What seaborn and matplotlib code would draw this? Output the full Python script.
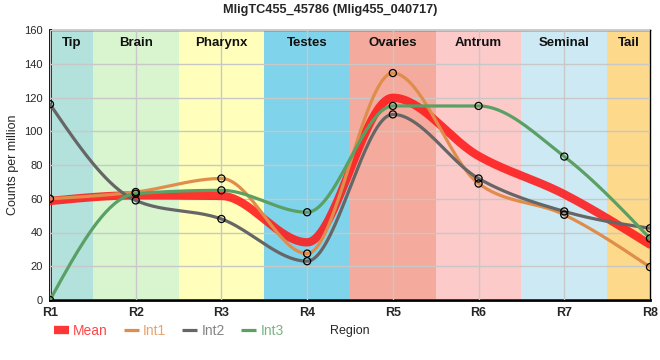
import numpy as np
import pandas as pd
import matplotlib
matplotlib.use("Agg")
import matplotlib.pyplot as plt
import seaborn as sns
from matplotlib.lines import Line2D

# --- data ---
regions = ["R1", "R2", "R3", "R4", "R5", "R6", "R7", "R8"]
int1 = [60, 64, 72, 27.5, 134.5, 69, 50.5, 19.5]
int2 = [116, 59, 48, 23, 110, 72, 52.5, 42.5]
int3 = [0, 63, 65, 52, 115, 115, 85, 36.5]
mean = list(np.mean([int1, int2, int3], axis=0))

tissues = ["Tip", "Brain", "Pharynx", "Testes", "Ovaries", "Antrum", "Seminal", "Tail"]
tissue_colors = ["#b3e2dd", "#d8f5d0", "#ffffbb", "#7fd3ea", "#f4aa9c",
                 "#fdcaca", "#cdeaf4", "#fdd98b"]

series = {"Int1": int1, "Int2": int2, "Int3": int3}
colors = {"Mean": "#ff1a1a", "Int1": "#e08d4b", "Int2": "#666666", "Int3": "#5aa064"}


def monotone(y, n=40):
    # d3 curveMonotoneX style (Steffen) smoothing, only for drawing the curve
    y = np.asarray(y, float)
    x = np.arange(len(y), dtype=float)
    s = np.diff(y)
    t = np.zeros(len(y))
    for i in range(1, len(y) - 1):
        s0, s1 = s[i - 1], s[i]
        p = (s0 + s1) / 2
        t[i] = (np.sign(s0) + np.sign(s1)) * min(abs(s0), abs(s1), 0.5 * abs(p))
    t[0] = (3 * s[0] - t[1]) / 2
    t[-1] = (3 * s[-1] - t[-2]) / 2
    xs, ys = [], []
    for i in range(len(y) - 1):
        u = np.linspace(0, 1, n, endpoint=False)
        h00 = 2 * u**3 - 3 * u**2 + 1
        h10 = u**3 - 2 * u**2 + u
        h01 = -2 * u**3 + 3 * u**2
        h11 = u**3 - u**2
        xs.append(x[i] + u)
        ys.append(h00 * y[i] + h10 * t[i] + h01 * y[i + 1] + h11 * t[i + 1])
    xs.append([x[-1]])
    ys.append([y[-1]])
    return np.concatenate(xs), np.concatenate(ys)


sns.set_theme(style="white")
plt.rcParams['font.family'] = ['Liberation Sans', 'DejaVu Sans']

fig = plt.figure(figsize=(6.6, 3.6), dpi=100)
ax = fig.add_axes([50 / 660, 60 / 360, 600 / 660, 270 / 360])

# tissue bands
for i, (name, col) in enumerate(zip(tissues, tissue_colors)):
    lo, hi = max(i - 0.5, 0), min(i + 0.5, len(regions) - 1)
    ax.axvspan(lo, hi, color=col, lw=0, zorder=0)
    ax.text((lo + hi) / 2, 156, name, ha="center", va="top",
            fontsize=9.5, fontweight="bold", color="#111111", zorder=5)

ax.grid(True, color="#c8c8c8", lw=1, zorder=1)
ax.set_axisbelow(False)

# smooth lines
xm, ym = monotone(mean)
sns.lineplot(x=xm, y=ym, ax=ax, color=colors["Mean"], lw=6, alpha=0.88,
             zorder=3, sort=False)
for name, vals in series.items():
    xs, ys = monotone(vals)
    sns.lineplot(x=xs, y=ys, ax=ax, color=colors[name], lw=2.3, zorder=4, sort=False)

for name, vals in series.items():
    sns.scatterplot(x=np.arange(len(regions)), y=vals, ax=ax, s=26,
                    facecolor="none", edgecolor="black", linewidth=0.9, zorder=6)

ax.set_xlim(0, len(regions) - 1)
ax.set_ylim(0, 160)
ax.set_xticks(range(len(regions)))
ax.set_xticklabels(regions, fontsize=9, fontweight="bold")
ax.set_yticks(range(0, 161, 20))
ax.tick_params(axis="y", labelsize=8, length=3, pad=2)
ax.tick_params(axis="x", length=3, pad=2)
for side in ["top", "right"]:
    ax.spines[side].set_linewidth(1)
    ax.spines[side].set_color("black")
for side in ["left", "bottom"]:
    ax.spines[side].set_linewidth(2)
    ax.spines[side].set_color("black")

ax.set_ylabel("Counts per million", fontsize=9)
ax.set_xlabel("")
fig.text(0.5, 1 - 10 / 360, "MligTC455_45786 (Mlig455_040717)", fontsize=9.2,
         fontweight="bold", ha="center", va="center")
fig.text(330 / 660, 1 - 331 / 360, "Region", fontsize=9, va="center", ha="left")

handles = [Line2D([], [], color=colors["Mean"], lw=6, alpha=0.88, solid_capstyle="butt")]
handles += [Line2D([], [], color=colors[n], lw=2.3, solid_capstyle="butt") for n in series]
leg = fig.legend(handles, ["Mean"] + list(series), loc="center left",
                 bbox_to_anchor=(41 / 660, 1 - 331 / 360), ncol=4, frameon=False,
                 fontsize=10, handlelength=1.1, handletextpad=0.3, columnspacing=1.15)
for txt, n in zip(leg.get_texts(), ["Mean"] + list(series)):
    txt.set_color(colors[n])
    txt.set_alpha(0.8)

fig.savefig("out.png", dpi=100)
